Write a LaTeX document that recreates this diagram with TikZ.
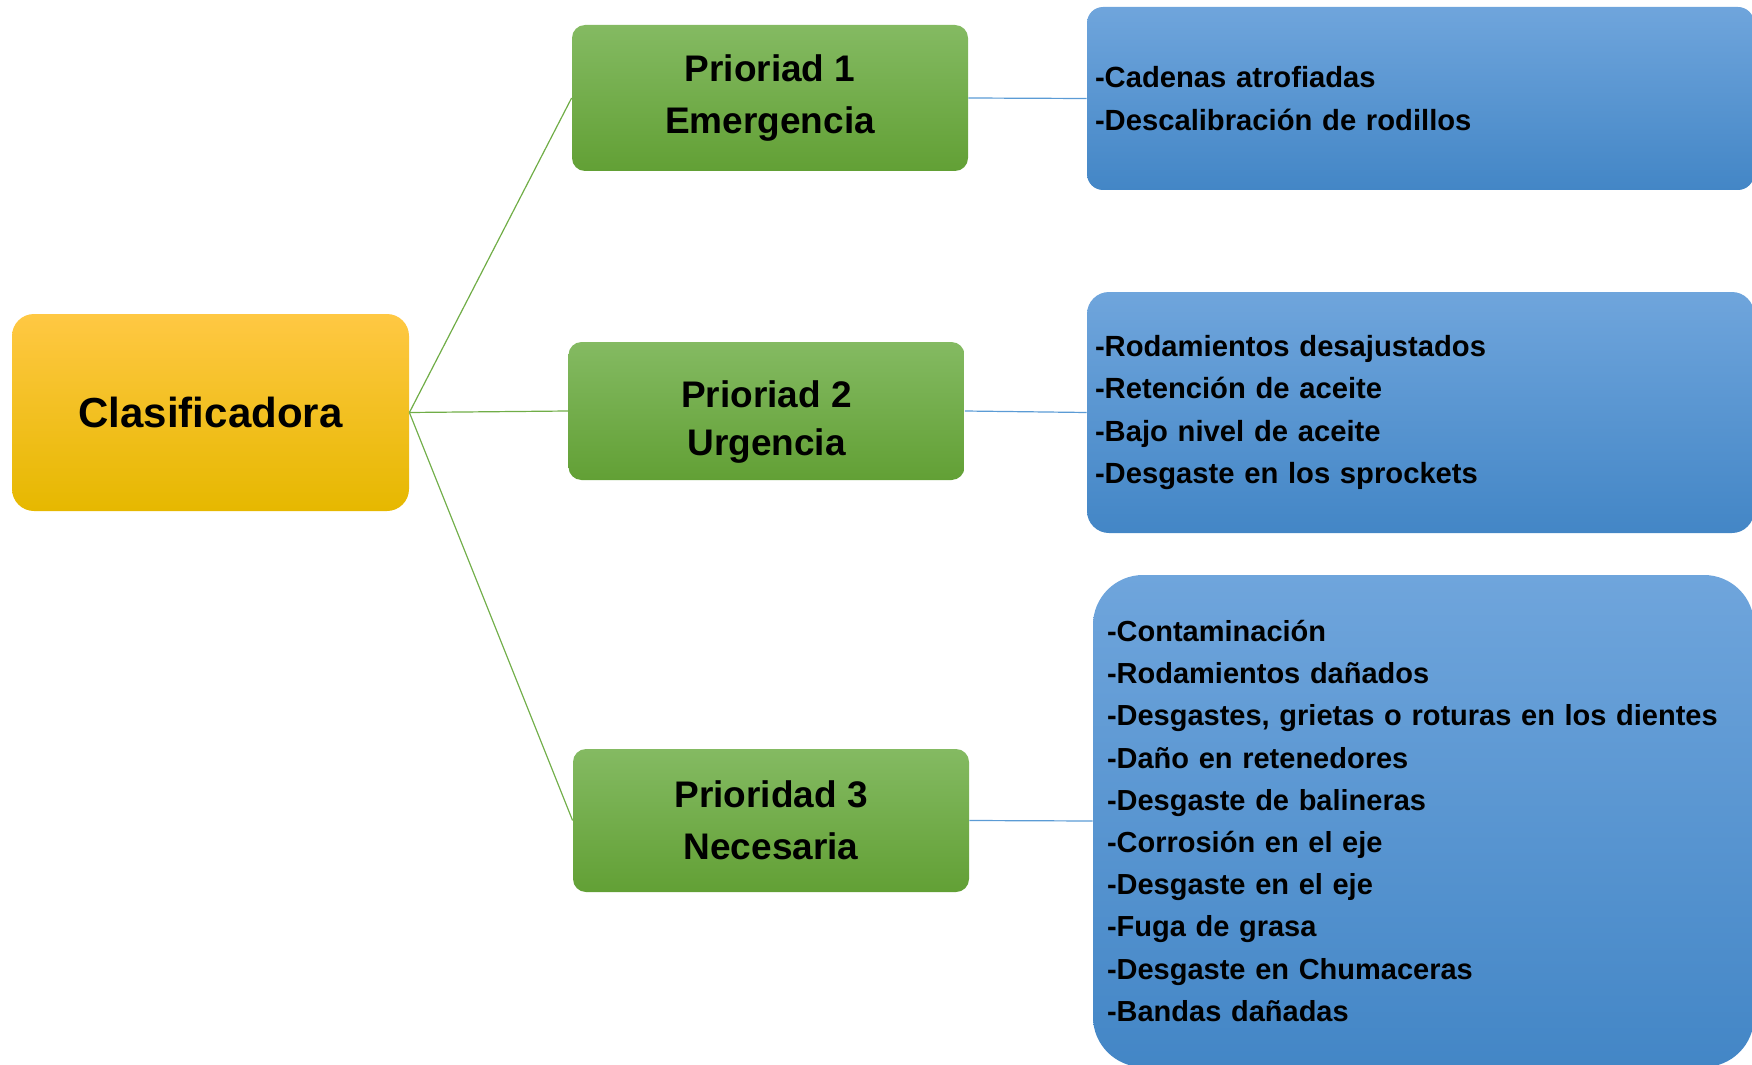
\documentclass[tikz,border=0pt]{standalone}
\usepackage{fontspec}
\setmainfont{Liberation Sans}
\usetikzlibrary{positioning}

\definecolor{goldTop}{HTML}{FFC843}
\definecolor{goldMid}{HTML}{FFC000}
\definecolor{goldBot}{HTML}{E6B800}
\definecolor{leafTop}{HTML}{84BA62}
\definecolor{leafMid}{HTML}{70AD47}
\definecolor{leafBot}{HTML}{62A035}
\definecolor{skyTop}{HTML}{6FA5DC}
\definecolor{skyMid}{HTML}{5B9BD5}
\definecolor{skyBot}{HTML}{4386C6}

\begin{document}
\begin{tikzpicture}[x=0.5pt, y=-0.5pt,
    root/.style={rounded corners=11pt, top color=goldTop, middle color=goldMid, bottom color=goldBot, minimum width=198.5pt, minimum height=98.5pt, font=\fontsize{21}{25}\selectfont\bfseries},
    prio/.style={rounded corners=6.5pt, top color=leafTop, middle color=leafMid, bottom color=leafBot, minimum width=198pt, align=center, font=\fontsize{18.5}{26}\selectfont\bfseries},
    causes/.style={rounded corners=8pt, top color=skyTop, middle color=skyMid, bottom color=skyBot, minimum width=333.5pt, inner xsep=4pt, text width=325.5pt, align=left, font=\fontsize{14.6}{21.1}\selectfont\bfseries},
    branch/.style={draw=leafMid, line width=0.6pt},
    leaf/.style={draw=skyMid, line width=0.6pt}
]
\clip (0,0) rectangle (1752,1065);

\node[root] (clasif) at (210.5,412.5) {Clasificadora};

\node[prio, minimum height=73pt] (p1) at (770,98) {Prioriad 1\\Emergencia};
\node[prio, minimum height=69pt, font=\fontsize{18.5}{24}\selectfont\bfseries] (p2) at (766.5,411) {\rule{0pt}{24.5pt}Prioriad 2\\Urgencia};
\node[prio, minimum height=71.5pt] (p3) at (771,820.5) {Prioridad 3\\Necesaria};

\node[causes, minimum height=91.5pt] (c1) at (1420.5,98.5) {-Cadenas atrofiadas\\-Descalibración de rodillos};
\node[causes, minimum height=120.5pt, rounded corners=11pt] (c2) at (1420.5,412.5) {-Rodamientos desajustados\\-Retención de aceite\\-Bajo nivel de aceite\\-Desgaste en los sprockets};
\node[causes, minimum height=246pt, minimum width=330.5pt, inner xsep=7pt, text width=316.5pt, rounded corners=25pt, font=\fontsize{14.5}{21.1}\selectfont\bfseries] (c3) at (1423.5,821) {-Contaminación\\-Rodamientos dañados\\-Desgastes, grietas o roturas en los dientes\\-Daño en retenedores\\-Desgaste de balineras\\-Corrosión en el eje\\-Desgaste en el eje\\-Fuga de grasa\\-Desgaste en Chumaceras\\-Bandas dañadas};

% Links
\foreach \p in {p1, p2, p3} {
    \draw[branch] (clasif.east) -- (\p.west);
}
\foreach \p/\c in {p1/c1, p2/c2, p3/c3} {
    \draw[leaf] (\p.east) -- (\c.west);
}

\end{tikzpicture}
\end{document}
